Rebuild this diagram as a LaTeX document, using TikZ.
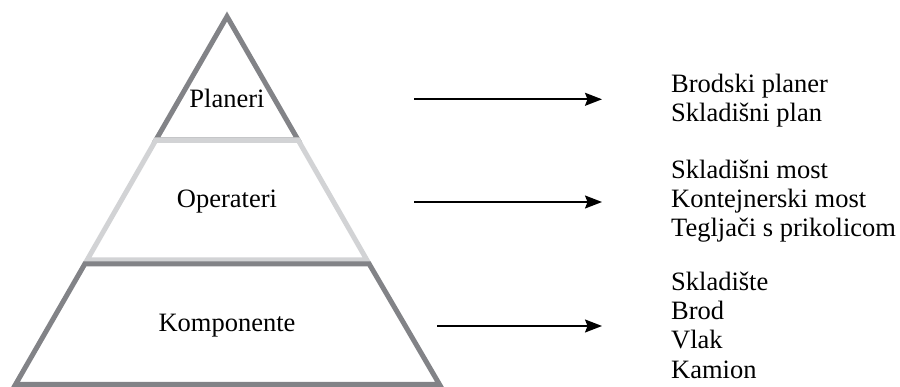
\documentclass[tikz,border=0pt]{standalone}
\usepackage{fontspec}
\setmainfont{Liberation Serif}
\usetikzlibrary{arrows.meta}
\definecolor{darkgr}{RGB}{130,131,135}
\definecolor{lightgr}{RGB}{210,211,213}
\tikzset{
  lvl/.style={line width=5pt,line join=miter},
  lbl/.style={font=\fontsize{26.5}{29.3}\selectfont,inner sep=0pt},
  lst/.style={lbl,align=left,anchor=west},
  arr/.style={line width=1.6pt,shorten >=69pt,-{Stealth[length=17pt,width=13pt,inset=2.5pt]}}
}

\begin{document}
\begin{tikzpicture}[x=1pt,y=-1pt]
\useasboundingbox (0,0) rectangle (900,387);
%pyramid
\draw[lvl,darkgr](227,16.5)--(298.1,140)--(155.9,140)--cycle;
\draw[lvl,lightgr](155.9,140)--(298.1,140)--(366.9,260)--(87.1,260)--cycle;
\draw[lvl,darkgr](84.8,264)--(369.2,264)--(439.4,384.3)--(15.6,384.3)--cycle;
\node[lbl,anchor=base](plan) at (227,108){Planeri};
\node[lbl,anchor=base](oper) at (227,208){Operateri};
\node[lbl,anchor=base](komp) at (227,332){Komponente};
%lists
\node[lst](lplan) at (671,100.5){Brodski planer\\Skladišni plan};
\node[lst](loper) at (671,201){Skladišni most\\Kontejnerski most\\Tegljači s prikolicom};
\node[lst](lkomp) at (671,325){Skladište\\Brod\\Vlak\\Kamion};
%arrows
\coordinate(s1) at (414,99.3);\coordinate(s2) at (414,202);\coordinate(s3) at (437,326);
\draw[arr](s1)--(s1-|lplan.west);
\draw[arr](s2)--(s2-|loper.west);
\draw[arr](s3)--(s3-|lkomp.west);
\end{tikzpicture}
\end{document}
